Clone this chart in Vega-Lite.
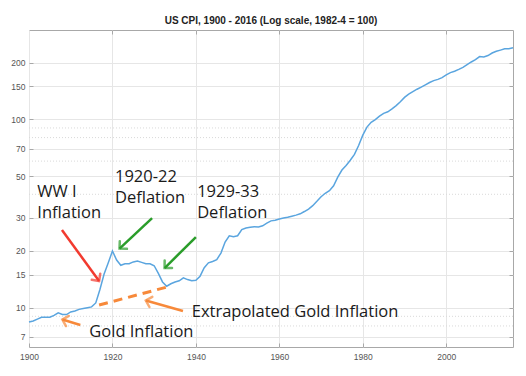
{
  "$schema": "https://vega.github.io/schema/vega-lite/v6.json",
  "width": 484,
  "height": 317,
  "autosize": "none",
  "padding": {"left": 29, "top": 30, "right": 13, "bottom": 29},
  "background": "white",
  "title": {"text": "US CPI, 1900 - 2016 (Log scale, 1982-4 = 100)", "font": "Liberation Sans", "fontSize": 10, "fontWeight": "bold", "color": "#222222", "anchor": "middle", "offset": 4},
  "config": {
    "view": {"stroke": "#a8a8a8", "strokeWidth": 1},
    "axis": {"labelFont": "Liberation Sans", "labelFontSize": 8.5, "labelColor": "#555555", "domain": false, "tickColor": "#a8a8a8", "gridColor": "#e6e6e6", "title": null}
  },
  "datasets": {
    "cpi": [
      {"year":1900,"cpi":8.4},{"year":1901,"cpi":8.5},{"year":1902,"cpi":8.7},{"year":1903,"cpi":8.9},{"year":1904,"cpi":8.9},
      {"year":1905,"cpi":8.9},{"year":1906,"cpi":9.1},{"year":1907,"cpi":9.4},{"year":1908,"cpi":9.2},{"year":1909,"cpi":9.2},
      {"year":1910,"cpi":9.5},{"year":1911,"cpi":9.6},{"year":1912,"cpi":9.8},{"year":1913,"cpi":9.9},{"year":1914,"cpi":10.0},
      {"year":1915,"cpi":10.1},{"year":1916,"cpi":10.6},{"year":1917,"cpi":12.5},{"year":1918,"cpi":15.1},{"year":1919,"cpi":17.3},
      {"year":1920,"cpi":20.0},{"year":1921,"cpi":17.9},{"year":1922,"cpi":16.8},{"year":1923,"cpi":17.1},{"year":1924,"cpi":17.1},
      {"year":1925,"cpi":17.5},{"year":1926,"cpi":17.7},{"year":1927,"cpi":17.4},{"year":1928,"cpi":17.1},{"year":1929,"cpi":17.1},
      {"year":1930,"cpi":16.7},{"year":1931,"cpi":15.2},{"year":1932,"cpi":13.7},{"year":1933,"cpi":13.0},{"year":1934,"cpi":13.4},
      {"year":1935,"cpi":13.7},{"year":1936,"cpi":13.9},{"year":1937,"cpi":14.4},{"year":1938,"cpi":14.1},{"year":1939,"cpi":13.9},
      {"year":1940,"cpi":14.0},{"year":1941,"cpi":14.7},{"year":1942,"cpi":16.3},{"year":1943,"cpi":17.3},{"year":1944,"cpi":17.6},
      {"year":1945,"cpi":18.0},{"year":1946,"cpi":19.5},{"year":1947,"cpi":22.3},{"year":1948,"cpi":24.1},{"year":1949,"cpi":23.8},
      {"year":1950,"cpi":24.1},{"year":1951,"cpi":26.0},{"year":1952,"cpi":26.5},{"year":1953,"cpi":26.7},{"year":1954,"cpi":26.9},
      {"year":1955,"cpi":26.8},{"year":1956,"cpi":27.2},{"year":1957,"cpi":28.1},{"year":1958,"cpi":28.9},{"year":1959,"cpi":29.1},
      {"year":1960,"cpi":29.6},{"year":1961,"cpi":29.9},{"year":1962,"cpi":30.2},{"year":1963,"cpi":30.6},{"year":1964,"cpi":31.0},
      {"year":1965,"cpi":31.5},{"year":1966,"cpi":32.4},{"year":1967,"cpi":33.4},{"year":1968,"cpi":34.8},{"year":1969,"cpi":36.7},
      {"year":1970,"cpi":38.8},{"year":1971,"cpi":40.5},{"year":1972,"cpi":41.8},{"year":1973,"cpi":44.4},{"year":1974,"cpi":49.3},
      {"year":1975,"cpi":53.8},{"year":1976,"cpi":56.9},{"year":1977,"cpi":60.6},{"year":1978,"cpi":65.2},{"year":1979,"cpi":72.6},
      {"year":1980,"cpi":82.4},{"year":1981,"cpi":90.9},{"year":1982,"cpi":96.5},{"year":1983,"cpi":99.6},{"year":1984,"cpi":103.9},
      {"year":1985,"cpi":107.6},{"year":1986,"cpi":109.6},{"year":1987,"cpi":113.6},{"year":1988,"cpi":118.3},{"year":1989,"cpi":124.0},
      {"year":1990,"cpi":130.7},{"year":1991,"cpi":136.2},{"year":1992,"cpi":140.3},{"year":1993,"cpi":144.5},{"year":1994,"cpi":148.2},
      {"year":1995,"cpi":152.4},{"year":1996,"cpi":156.9},{"year":1997,"cpi":160.5},{"year":1998,"cpi":163.0},{"year":1999,"cpi":166.6},
      {"year":2000,"cpi":172.2},{"year":2001,"cpi":177.1},{"year":2002,"cpi":179.9},{"year":2003,"cpi":184.0},{"year":2004,"cpi":188.9},
      {"year":2005,"cpi":195.3},{"year":2006,"cpi":201.6},{"year":2007,"cpi":207.3},{"year":2008,"cpi":215.3},{"year":2009,"cpi":214.5},
      {"year":2010,"cpi":218.1},{"year":2011,"cpi":224.9},{"year":2012,"cpi":229.6},{"year":2013,"cpi":233.0},{"year":2014,"cpi":236.7},
      {"year":2015,"cpi":237.0},{"year":2016,"cpi":240.0}
    ],
    "minor": [{"v":8},{"v":9},{"v":40},{"v":60},{"v":80},{"v":90}],
    "extrap": [{"year":1916.8,"cpi":10.33},{"year":1933.1,"cpi":12.88}],
    "arrows": [
      {"id":"ww1","kind":"red","x":1907.9,"y":25.85,"x2":1916.8,"y2":13.86},
      {"id":"d1920","kind":"green","x":1929.5,"y":29.9,"x2":1921.7,"y2":20.6},
      {"id":"d1929","kind":"green","x":1940.0,"y":23.7,"x2":1932.5,"y2":16.24},
      {"id":"extrap","kind":"orange","x":1936.9,"y":9.6,"x2":1928.0,"y2":10.92},
      {"id":"gold","kind":"orange","x":1912.3,"y":8.1,"x2":1908.0,"y2":8.65}
    ],
    "labels": [
      {"text":"WW I","year":1902.0,"cpi":38.8},
      {"text":"Inflation","year":1902.0,"cpi":29.8},
      {"text":"1920-22","year":1920.6,"cpi":46.7},
      {"text":"Deflation","year":1920.6,"cpi":35.8},
      {"text":"1929-33","year":1940.3,"cpi":38.8},
      {"text":"Deflation","year":1940.3,"cpi":29.8},
      {"text":"Extrapolated Gold Inflation","year":1939.0,"cpi":8.89},
      {"text":"Gold Inflation","year":1914.45,"cpi":7.02}
    ]
  },
  "resolve": {"axis": {"x": "independent", "y": "independent"}},
  "layer": [
    {
      "data": {"name": "minor"},
      "mark": {"type": "rule", "color": "#d9d9d9", "strokeDash": [1, 2], "strokeWidth": 1},
      "encoding": {
        "y": {"field": "v", "type": "quantitative", "scale": {"type": "log", "domain": [6.185, 298], "nice": false, "zero": false}, "axis": null}
      }
    },
    {
      "data": {"name": "cpi"},
      "mark": {"type": "line", "color": "#5aa5df", "strokeWidth": 1.5},
      "encoding": {
        "x": {"field": "year", "type": "quantitative", "scale": {"domain": [1900, 2016], "nice": false, "zero": false}, "axis": {"orient": "bottom", "values": [1900, 1920, 1940, 1960, 1980, 2000], "format": "d", "grid": true, "tickSize": -4, "labelPadding": 9, "labelFlush": false}},
        "y": {"field": "cpi", "type": "quantitative", "scale": {"type": "log", "domain": [6.185, 298], "nice": false, "zero": false}, "axis": {"orient": "left", "values": [7, 10, 15, 20, 30, 50, 70, 100, 150, 200], "format": "d", "grid": true, "tickSize": -4, "labelPadding": 8}}
      }
    },
    {
      "data": {"name": "extrap"},
      "mark": {"type": "line", "color": "#f7893a", "strokeWidth": 3, "strokeDash": [9, 6], "strokeCap": "butt"},
      "encoding": {
        "x": {"field": "year", "type": "quantitative", "axis": null},
        "y": {"field": "cpi", "type": "quantitative", "axis": null}
      }
    },
    {
      "data": {"name": "arrows"},
      "mark": {"type": "rule", "strokeWidth": 2.5},
      "encoding": {
        "x": {"field": "x", "type": "quantitative", "axis": null},
        "y": {"field": "y", "type": "quantitative", "axis": null},
        "x2": {"field": "x2"},
        "y2": {"field": "y2"},
        "color": {"field": "kind", "type": "nominal", "scale": {"domain": ["red", "green", "orange"], "range": ["#f23a2f", "#2a9d2a", "#f7893a"]}, "legend": null}
      }
    },
    {
      "data": {"name": "arrows"},
      "transform": [{"filter": "datum.id === 'ww1'"}],
      "mark": {"type": "point", "shape": "M-1,1L0,0L1,1", "filled": false, "strokeWidth": 2.5, "size": 110, "angle": 144, "strokeCap": "round"},
      "encoding": {
        "x": {"field": "x2", "type": "quantitative", "axis": null},
        "y": {"field": "y2", "type": "quantitative", "axis": null},
        "color": {"field": "kind", "type": "nominal", "legend": null}
      }
    },
    {
      "data": {"name": "arrows"},
      "transform": [{"filter": "datum.id === 'd1920'"}],
      "mark": {"type": "point", "shape": "M-1,1L0,0L1,1", "filled": false, "strokeWidth": 2.5, "size": 110, "angle": 227, "strokeCap": "round"},
      "encoding": {
        "x": {"field": "x2", "type": "quantitative", "axis": null},
        "y": {"field": "y2", "type": "quantitative", "axis": null},
        "color": {"field": "kind", "type": "nominal", "legend": null}
      }
    },
    {
      "data": {"name": "arrows"},
      "transform": [{"filter": "datum.id === 'd1929'"}],
      "mark": {"type": "point", "shape": "M-1,1L0,0L1,1", "filled": false, "strokeWidth": 2.5, "size": 110, "angle": 225.5, "strokeCap": "round"},
      "encoding": {
        "x": {"field": "x2", "type": "quantitative", "axis": null},
        "y": {"field": "y2", "type": "quantitative", "axis": null},
        "color": {"field": "kind", "type": "nominal", "legend": null}
      }
    },
    {
      "data": {"name": "arrows"},
      "transform": [{"filter": "datum.id === 'extrap'"}],
      "mark": {"type": "point", "shape": "M-1,1L0,0L1,1", "filled": false, "strokeWidth": 2.5, "size": 110, "angle": 286, "strokeCap": "round"},
      "encoding": {
        "x": {"field": "x2", "type": "quantitative", "axis": null},
        "y": {"field": "y2", "type": "quantitative", "axis": null},
        "color": {"field": "kind", "type": "nominal", "legend": null}
      }
    },
    {
      "data": {"name": "arrows"},
      "transform": [{"filter": "datum.id === 'gold'"}],
      "mark": {"type": "point", "shape": "M-1,1L0,0L1,1", "filled": false, "strokeWidth": 2.5, "size": 110, "angle": 286, "strokeCap": "round"},
      "encoding": {
        "x": {"field": "x2", "type": "quantitative", "axis": null},
        "y": {"field": "y2", "type": "quantitative", "axis": null},
        "color": {"field": "kind", "type": "nominal", "legend": null}
      }
    },
    {
      "data": {"name": "labels"},
      "mark": {"type": "text", "align": "left", "baseline": "alphabetic", "font": "Open Sans", "fontSize": 16.5, "color": "#1a1a1a"},
      "encoding": {
        "x": {"field": "year", "type": "quantitative", "axis": {"orient": "top", "values": [1920, 1940, 1960, 1980, 2000], "labels": false, "grid": false, "tickSize": -4}},
        "y": {"field": "cpi", "type": "quantitative", "axis": {"orient": "right", "values": [7, 10, 15, 20, 30, 50, 70, 100, 150, 200], "labels": false, "grid": false, "tickSize": -4}},
        "text": {"field": "text"}
      }
    }
  ]
}
